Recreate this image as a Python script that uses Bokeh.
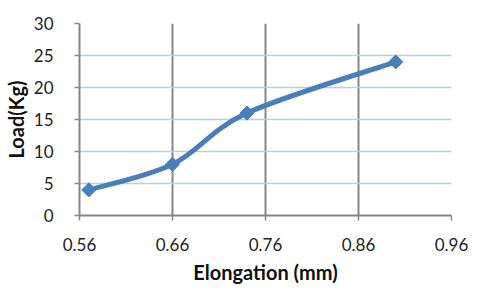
import math
from bokeh.plotting import figure
from bokeh.models import FixedTicker, Range1d
from bokeh.embed import file_html
from bokeh.resources import INLINE

# Data
elongation = [0.57, 0.66, 0.74, 0.90]
load = [4, 8, 16, 24]
x_ticks = [0.56, 0.66, 0.76, 0.86, 0.96]
x_tick_labels = ["0.56", "0.66", "0.76", "0.86", "0.96"]
y_ticks = [0, 5, 10, 15, 20, 25, 30]

FONT = "Lato"
LINE_COLOR = "#4a7ebb"

p = figure(width=480, height=291, output_backend="svg", toolbar_location=None,
           x_range=Range1d(0.56, 0.96), y_range=Range1d(0, 30),
           min_border_left=77, min_border_right=29, min_border_top=23, min_border_bottom=76)
p.outline_line_color = None
p.background_fill_color = "white"
p.border_fill_color = "white"

# Smooth curve (Catmull-Rom style Bezier segments, like a spreadsheet "smoothed line")
n = len(elongation)
x0, y0, x1, y1, cx0, cy0, cx1, cy1 = [], [], [], [], [], [], [], []
for i in range(n - 1):
    xp = elongation[i - 1] if i > 0 else elongation[i]
    yp = load[i - 1] if i > 0 else load[i]
    xn = elongation[i + 2] if i + 2 < n else elongation[i + 1]
    yn = load[i + 2] if i + 2 < n else load[i + 1]
    x0.append(elongation[i]); y0.append(load[i])
    x1.append(elongation[i + 1]); y1.append(load[i + 1])
    cx0.append(elongation[i] + (elongation[i + 1] - xp) / 6)
    cy0.append(load[i] + (load[i + 1] - yp) / 6)
    cx1.append(elongation[i + 1] - (xn - elongation[i]) / 6)
    cy1.append(load[i + 1] - (yn - load[i]) / 6)

p.bezier(x0=x0, y0=y0, x1=x1, y1=y1, cx0=cx0, cy0=cy0, cx1=cx1, cy1=cy1,
         line_color=LINE_COLOR, line_width=5)
p.scatter(elongation, load, marker="square", angle=math.pi / 4, size=10,
          fill_color=LINE_COLOR, line_color=LINE_COLOR)

# Axes
p.xaxis.ticker = FixedTicker(ticks=x_ticks)
p.xaxis.major_label_overrides = {t: l for t, l in zip(x_ticks, x_tick_labels)}
p.yaxis.ticker = FixedTicker(ticks=y_ticks)
for ax in (p.xaxis, p.yaxis):
    ax.axis_line_color = "#868686"
    ax.axis_line_width = 2
    ax.major_tick_line_color = "#868686"
    ax.major_tick_line_width = 1.5
    ax.major_tick_out = 5
    ax.major_tick_in = 0
    ax.minor_tick_line_color = None
    ax.major_label_text_font = FONT
    ax.major_label_text_font_size = "17px"
    ax.major_label_text_color = "#222222"
    ax.axis_label_text_font = FONT
    ax.axis_label_text_font_size = "20px"
    ax.axis_label_text_font_style = "bold"
    ax.axis_label_text_color = "#111111"

p.xaxis.axis_label = "Elongation (mm)"
p.yaxis.axis_label = "Load(Kg)"
p.xaxis.major_label_standoff = 17
p.xaxis.axis_label_standoff = 6
p.yaxis.major_label_standoff = 21
p.yaxis.axis_label_standoff = 3

# Grids
p.xgrid.ticker = FixedTicker(ticks=x_ticks)
p.xgrid.grid_line_color = "#868686"
p.xgrid.grid_line_width = 2
p.ygrid.ticker = FixedTicker(ticks=y_ticks)
p.ygrid.grid_line_color = "#b9cde5"
p.ygrid.grid_line_width = 1.5

open("out.html", "w").write(file_html(p, INLINE))
